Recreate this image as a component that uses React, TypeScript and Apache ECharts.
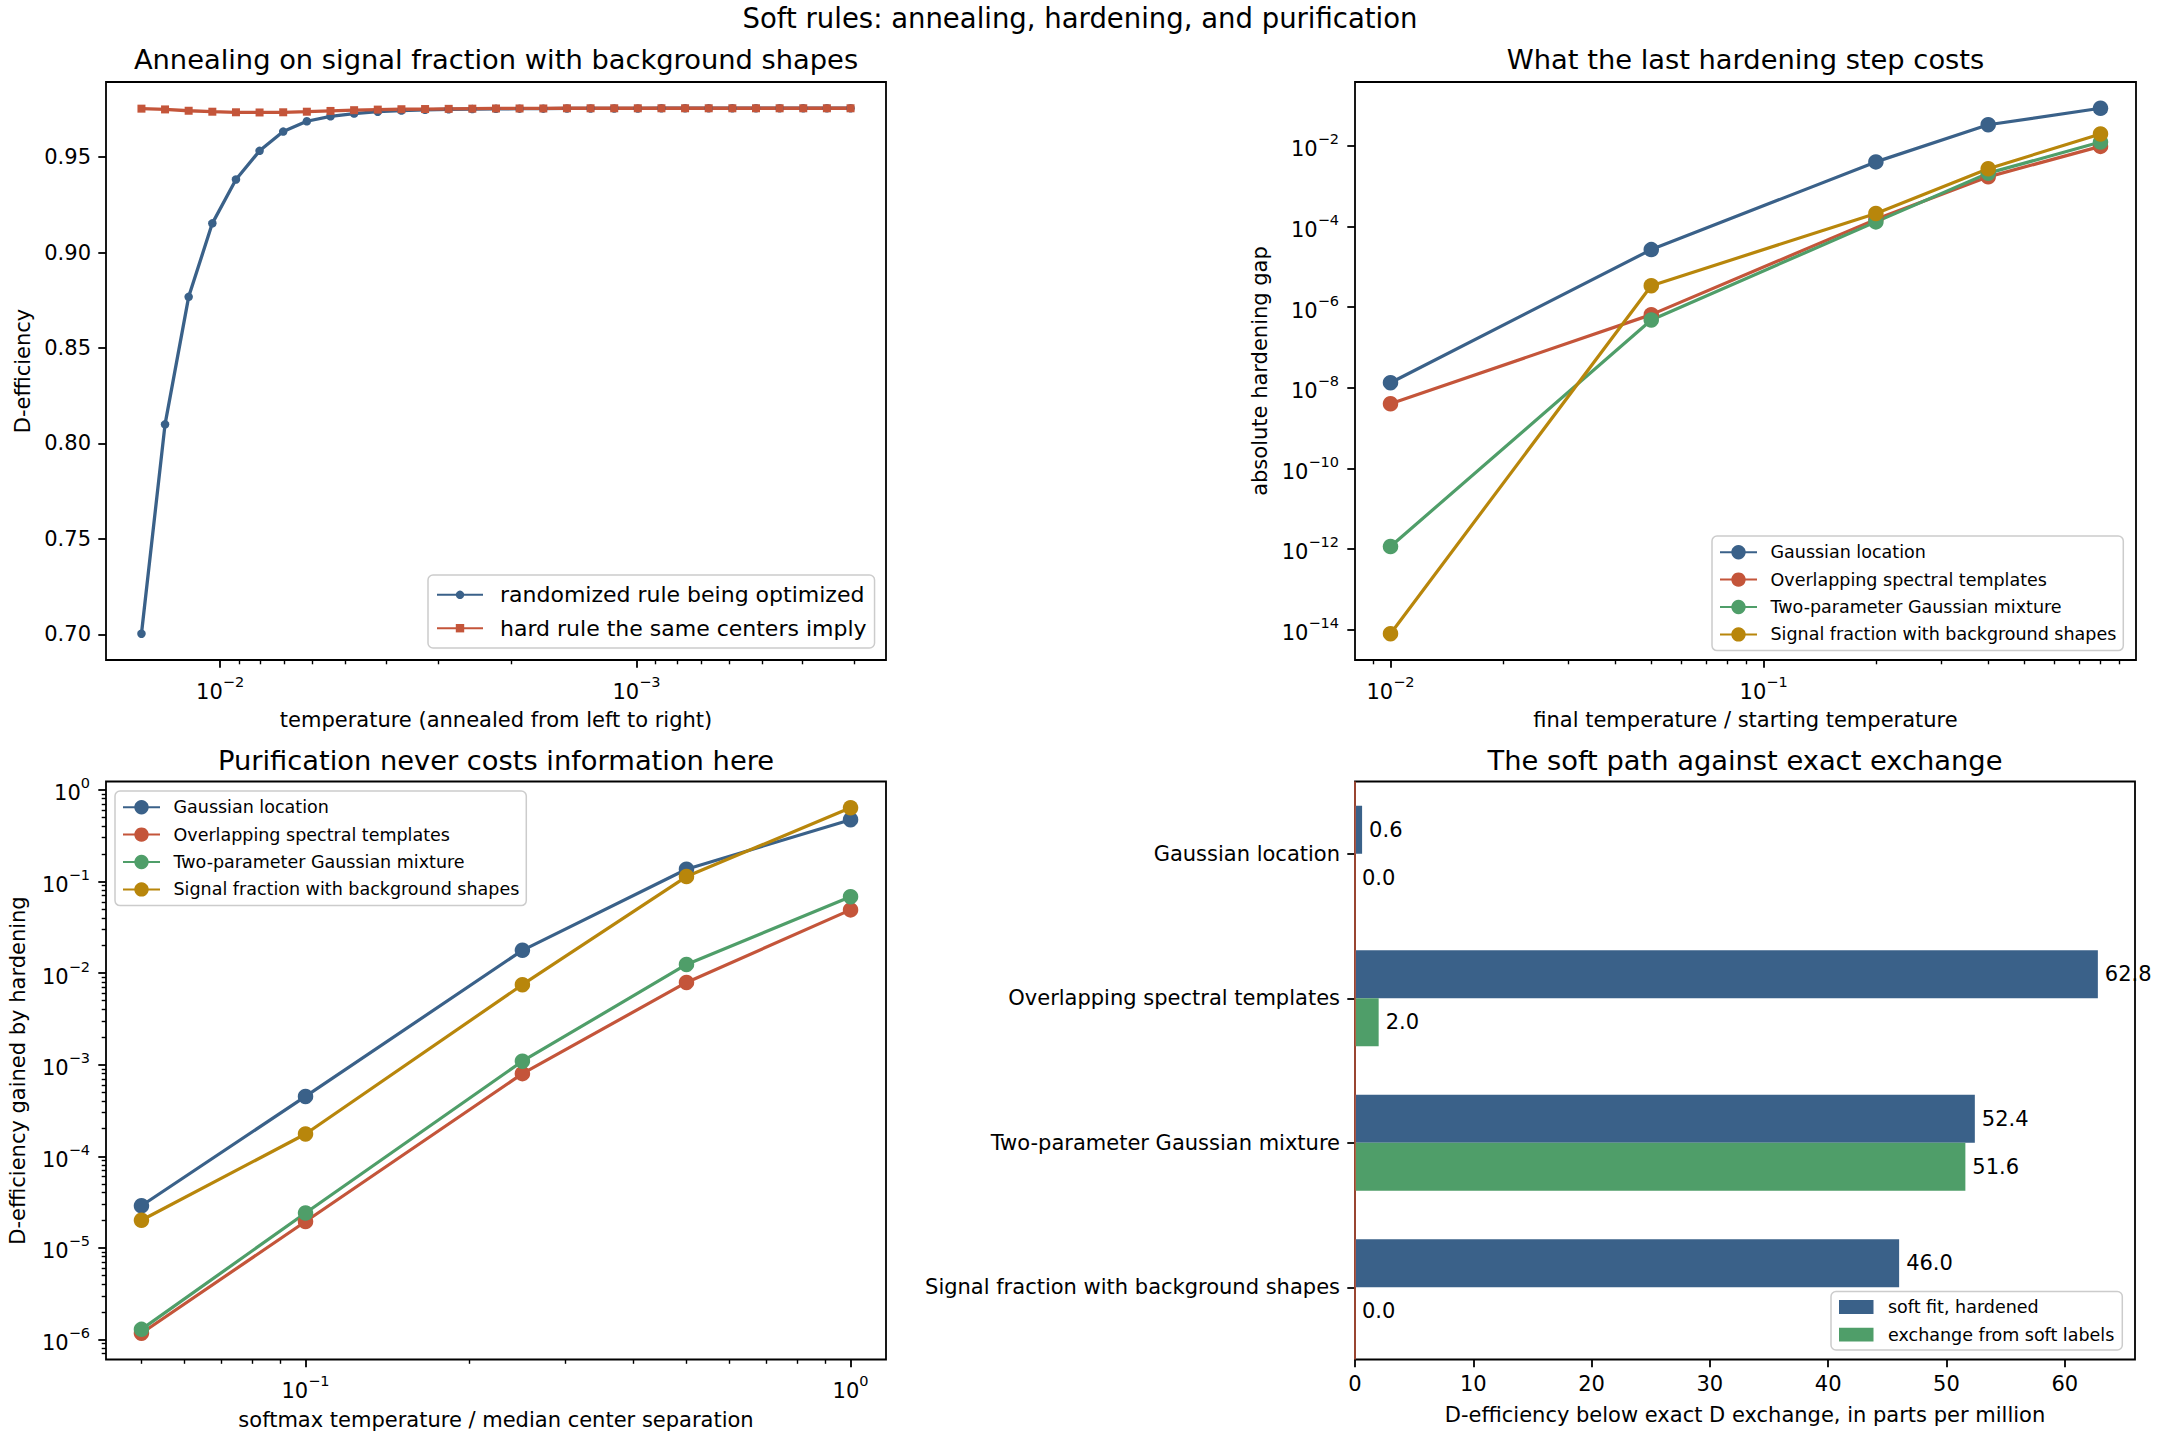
import React, { useEffect, useRef } from "react";
import * as echarts from "echarts";

const FONT = "DejaVu Sans";
const BLUE = "#3a6189";
const RED = "#c4553a";
const GREEN = "#4f9e69";
const GOLD = "#b8860b";

const SUPTITLE = "Soft rules: annealing, hardening, and purification";
const PANEL_TITLES = [
  "Annealing on signal fraction with background shapes",
  "What the last hardening step costs",
  "Purification never costs information here",
  "The soft path against exact exchange",
];

// Panel 1: annealing
const annealTemps = [
  0.01545, 0.01356, 0.0119, 0.01044, 0.009161, 0.00804, 0.007055, 0.00619, 0.005431, 0.004766,
  0.004182, 0.003669, 0.003219, 0.002825, 0.002479, 0.002175, 0.001909, 0.001674, 0.001469, 0.001289,
  0.001131, 0.0009927, 0.0008711, 0.0007643, 0.0006707, 0.0005885, 0.0005164, 0.0004531, 0.0003976,
  0.0003489, 0.0003061,
];
const annealSoft = [
  0.7003, 0.81, 0.8768, 0.9153, 0.9383, 0.9533, 0.9634, 0.9688, 0.9714, 0.9728, 0.9738, 0.9744,
  0.9748, 0.9751, 0.9752, 0.9753, 0.9754, 0.9754, 0.9755, 0.9755, 0.9755, 0.9755, 0.9756, 0.9756,
  0.9756, 0.9756, 0.9756, 0.9756, 0.9756, 0.9756, 0.9756,
];
const annealHard = [
  0.9754, 0.975, 0.9743, 0.9738, 0.9735, 0.9734, 0.9735, 0.9738, 0.9742, 0.9746, 0.9749, 0.9751,
  0.9752, 0.9753, 0.9754, 0.9755, 0.9755, 0.9755, 0.9756, 0.9756, 0.9756, 0.9756, 0.9756, 0.9756,
  0.9756, 0.9756, 0.9756, 0.9756, 0.9756, 0.9756, 0.9756,
];
const annealNames = ["randomized rule being optimized", "hard rule the same centers imply"];

// Problems
const problems = [
  "Gaussian location",
  "Overlapping spectral templates",
  "Two-parameter Gaussian mixture",
  "Signal fraction with background shapes",
];
const problemColors = [BLUE, RED, GREEN, GOLD];

// Panel 2: hardening gap
const hardenRatio = [0.01, 0.05, 0.2, 0.4, 0.8];
const gapGaussian = [1.33e-8, 2.67e-5, 4.0e-3, 3.34e-2, 8.55e-2];
const gapOverlap = [4.0e-9, 6.5e-7, 1.5e-4, 1.7e-3, 9.7e-3];
const gapTwoParam = [1.15e-12, 4.8e-7, 1.3e-4, 2.1e-3, 1.24e-2];
const gapSignal = [7.9e-15, 3.4e-6, 2.1e-4, 2.7e-3, 1.97e-2];

// Panel 3: purification
const softmaxTemp = [0.05, 0.1, 0.25, 0.5, 1.0];
const gainGaussian = [2.88e-5, 4.5e-4, 1.77e-2, 0.136, 0.472];
const gainOverlap = [1.17e-6, 1.94e-5, 7.98e-4, 7.9e-3, 4.89e-2];
const gainTwoParam = [1.29e-6, 2.4e-5, 1.09e-3, 1.24e-2, 6.82e-2];
const gainSignal = [2.0e-5, 1.75e-4, 7.46e-3, 0.113, 0.637];

// Panel 4: bars
const barNames = ["soft fit, hardened", "exchange from soft labels"];
const softFitHardened = [0.6, 62.8, 52.4, 46.0];
const exchangeSoftLabels = [0.0, 2.0, 51.6, 0.0];
const barTicks = [0, 10, 20, 30, 40, 50, 60];
const linearTicks = [0.7, 0.75, 0.8, 0.85, 0.9, 0.95];

const lg = (v: number) => Math.log10(v);
const pad = (vals: number[]): [number, number] => {
  const lo = Math.min(...vals);
  const hi = Math.max(...vals);
  const s = hi - lo;
  return [lo - 0.05 * s, hi + 0.05 * s];
};
const majors = (r: [number, number], step = 1) => {
  const out: number[] = [];
  for (let k = Math.ceil(r[0] / step) * step; k <= r[1] + 1e-9; k += step) out.push(k);
  return out;
};
const minors = (r: [number, number]) => {
  const out: number[] = [];
  for (let k = Math.floor(r[0]) - 1; k <= Math.ceil(r[1]); k++) {
    for (let m = 2; m <= 9; m++) {
      const v = k + Math.log10(m);
      if (v >= r[0] && v <= r[1]) out.push(v);
    }
  }
  return out;
};

const powLabel = (v: number) => {
  const e = Math.round(v);
  if (Math.abs(v - e) > 1e-6) return "";
  const s = e < 0 ? "\u2212" + Math.abs(e) : String(e);
  return `{b|10}{s|${s}}`;
};
const RICH = {
  b: { fontSize: 21, lineHeight: 28, verticalAlign: "bottom", fontFamily: FONT, color: "#000" },
  s: { fontSize: 14.5, lineHeight: 18, verticalAlign: "top", fontFamily: FONT, color: "#000" },
};

const TICK = { color: "#000", width: 1.8 };
const nameStyle = { fontSize: 21, fontFamily: FONT, color: "#000" };
const NOLINE = { show: false, onZero: false };

function logAxes(
  gridIndex: number,
  range: [number, number],
  opts: { name?: string; nameGap?: number; inverse?: boolean; step?: number; minor?: boolean; margin?: number; isY?: boolean }
) {
  const main: any = {
    type: "value",
    gridIndex,
    min: range[0],
    max: range[1],
    inverse: !!opts.inverse,
    position: opts.isY ? "left" : "bottom",
    axisLine: NOLINE,
    splitLine: { show: false },
    axisTick: { show: true, length: 7.7, lineStyle: TICK, customValues: majors(range, opts.step || 1) },
    axisLabel: {
      show: true,
      customValues: majors(range, opts.step || 1),
      formatter: powLabel,
      rich: RICH,
      margin: opts.margin ?? 14,
      color: "#000",
      fontFamily: FONT,
    },
  };
  if (opts.name) {
    main.name = opts.name;
    main.nameLocation = "middle";
    main.nameGap = opts.nameGap;
    main.nameTextStyle = nameStyle;
  }
  const list = [main];
  if (opts.minor) {
    list.push({
      type: "value",
      gridIndex,
      min: range[0],
      max: range[1],
      inverse: !!opts.inverse,
      position: opts.isY ? "left" : "bottom",
      axisLine: NOLINE,
      splitLine: { show: false },
      axisTick: { show: true, length: 4.3, lineStyle: { color: "#000", width: 1.4 }, customValues: minors(range) },
      axisLabel: { show: false },
    });
  }
  return list;
}

const GRIDS = [
  { left: 106, top: 82, width: 780, height: 578 },
  { left: 1355, top: 82, width: 781, height: 578 },
  { left: 106, top: 781.5, width: 780, height: 578 },
  { left: 1355, top: 781.5, width: 780, height: 578 },
];

function legendBox(extra: any) {
  return {
    orient: "vertical",
    backgroundColor: "rgba(255,255,255,0.8)",
    borderColor: "#cccccc",
    borderWidth: 1.5,
    borderRadius: 5,
    selectedMode: false,
    ...extra,
  };
}

function buildOption() {
  const g0x = pad(annealTemps.map(lg));
  const g0y = pad([...annealSoft, ...annealHard]);
  const g1x = pad(hardenRatio.map(lg));
  const gaps = [gapGaussian, gapOverlap, gapTwoParam, gapSignal];
  const g1y = pad(gaps.flat().map(lg));
  const g2x = pad(softmaxTemp.map(lg));
  const gains = [gainGaussian, gainOverlap, gainTwoParam, gainSignal];
  const g2y = pad(gains.flat().map(lg));
  const barMax = Math.max(...softFitHardened, ...exchangeSoftLabels) * 1.05;

  const xAxes: any[] = [
    ...logAxes(0, g0x, { name: "temperature (annealed from left to right)", nameGap: 49, inverse: true, minor: true }),
    ...logAxes(1, g1x, { name: "final temperature / starting temperature", nameGap: 49, minor: true }),
    ...logAxes(2, g2x, { name: "softmax temperature / median center separation", nameGap: 49.5, minor: true }),
    {
      type: "value",
      gridIndex: 3,
      min: 0,
      max: barMax,
      position: "bottom",
      axisLine: NOLINE,
      splitLine: { show: false },
      axisTick: { show: true, length: 7.7, lineStyle: TICK, customValues: barTicks },
      axisLabel: { customValues: barTicks, fontSize: 21, fontFamily: FONT, color: "#000", margin: 14 },
      name: "D-efficiency below exact D exchange, in parts per million",
      nameLocation: "middle",
      nameGap: 45,
      nameTextStyle: nameStyle,
    },
  ];
  // indices: 0,1 grid0; 2,3 grid1; 4,5 grid2; 6 grid3
  const yAxes: any[] = [
    {
      type: "value",
      gridIndex: 0,
      min: g0y[0],
      max: g0y[1],
      position: "left",
      axisLine: NOLINE,
      splitLine: { show: false },
      axisTick: { show: true, length: 7.7, lineStyle: TICK, customValues: linearTicks },
      axisLabel: {
        customValues: linearTicks,
        formatter: (v: number) => v.toFixed(2),
        fontSize: 21,
        fontFamily: FONT,
        color: "#000",
        margin: 15,
      },
      name: "D-efficiency",
      nameLocation: "middle",
      nameGap: 73,
      nameTextStyle: nameStyle,
    },
    ...logAxes(1, g1y, { name: "absolute hardening gap", nameGap: 85, step: 2, isY: true, margin: 16 }),
    ...logAxes(2, g2y, { name: "D-efficiency gained by hardening", nameGap: 78, minor: true, isY: true, margin: 16 }),
    {
      type: "category",
      gridIndex: 3,
      data: problems,
      inverse: true,
      position: "left",
      axisLine: NOLINE,
      splitLine: { show: false },
      axisTick: { show: true, alignWithLabel: true, length: 7.7, lineStyle: TICK },
      axisLabel: { fontSize: 21, fontFamily: FONT, color: "#000", margin: 15 },
    },
  ];
  // y indices: 0 grid0; 1 grid1; 2,3 grid2; 4 grid3

  const series: any[] = [
    {
      type: "line",
      name: annealNames[0],
      xAxisIndex: 0,
      yAxisIndex: 0,
      data: annealTemps.map((t, i) => [lg(t), annealSoft[i]]),
      symbol: "circle",
      symbolSize: 8.5,
      color: BLUE,
      lineStyle: { width: 3.3, color: BLUE },
      itemStyle: { color: BLUE },
    },
    {
      type: "line",
      name: annealNames[1],
      xAxisIndex: 0,
      yAxisIndex: 0,
      data: annealTemps.map((t, i) => [lg(t), annealHard[i]]),
      symbol: "rect",
      symbolSize: 8,
      color: RED,
      lineStyle: { width: 3.3, color: RED },
      itemStyle: { color: RED },
    },
  ];
  gaps.forEach((arr, k) => {
    series.push({
      type: "line",
      name: problems[k],
      xAxisIndex: 2,
      yAxisIndex: 1,
      data: hardenRatio.map((x, i) => [lg(x), lg(arr[i])]),
      symbol: "circle",
      symbolSize: 15.5,
      color: problemColors[k],
      lineStyle: { width: 3.2, color: problemColors[k] },
      itemStyle: { color: problemColors[k] },
    });
  });
  gains.forEach((arr, k) => {
    series.push({
      type: "line",
      name: problems[k],
      xAxisIndex: 4,
      yAxisIndex: 2,
      data: softmaxTemp.map((x, i) => [lg(x), lg(arr[i])]),
      symbol: "circle",
      symbolSize: 15.5,
      color: problemColors[k],
      lineStyle: { width: 3.2, color: problemColors[k] },
      itemStyle: { color: problemColors[k] },
    });
  });
  const barLabel = {
    show: true,
    position: "right",
    distance: 7,
    formatter: (p: any) => Number(p.value).toFixed(1),
    fontSize: 21,
    fontFamily: FONT,
    color: "#000",
  };
  series.push({
    type: "bar",
    name: barNames[0],
    xAxisIndex: 6,
    yAxisIndex: 4,
    data: softFitHardened,
    barWidth: 48,
    barGap: "0%",
    color: BLUE,
    itemStyle: { color: BLUE },
    label: barLabel,
    markLine: {
      silent: true,
      symbol: "none",
      label: { show: false },
      lineStyle: { color: RED, width: 1.5, type: "solid" },
      data: [{ xAxis: 0 }],
    },
  });
  series.push({
    type: "bar",
    name: barNames[1],
    xAxisIndex: 6,
    yAxisIndex: 4,
    data: exchangeSoftLabels,
    barWidth: 48,
    barGap: "0%",
    color: GREEN,
    itemStyle: { color: GREEN },
    label: barLabel,
  });

  const smallText = { fontSize: 17.5, fontFamily: FONT, color: "#000", lineHeight: 18, padding: [0, 0, 0, 8.5] };
  const legends = [
    legendBox({
      left: 428,
      top: 575,
      data: annealNames,
      itemWidth: 46,
      itemHeight: 10.5,
      itemGap: 11.4,
      padding: [8.8, 8, 8.8, 8],
      textStyle: { fontSize: 22, fontFamily: FONT, color: "#000", lineHeight: 22, padding: [0, 0, 0, 12] },
    }),
    legendBox({
      left: 1712,
      top: 536,
      data: problems,
      itemWidth: 37,
      itemHeight: 18,
      itemGap: 9.4,
      padding: [7.2, 7, 7.2, 7],
      textStyle: smallText,
    }),
    legendBox({
      left: 115,
      top: 791,
      data: problems,
      itemWidth: 37,
      itemHeight: 18,
      itemGap: 9.4,
      padding: [7.2, 7, 7.2, 7],
      textStyle: smallText,
    }),
    legendBox({
      left: 1831,
      top: 1291.6,
      data: barNames.map((n) => ({ name: n, icon: "rect" })),
      itemWidth: 34.5,
      itemHeight: 13.8,
      itemGap: 9.6,
      padding: [6.4, 8, 6.4, 8],
      textStyle: { ...smallText, padding: [0, 0, 0, 9.5] },
    }),
  ];

  const txt = (text: string, x: number, y: number, size: number) => ({
    type: "text",
    x,
    y,
    silent: true,
    style: {
      text,
      fontSize: size,
      fontFamily: FONT,
      fill: "#000",
      align: "center",
      verticalAlign: "middle",
      textAlign: "center",
      textVerticalAlign: "middle",
    },
  });
  const centers = GRIDS.map((g) => g.left + g.width / 2);
  const graphic = [
    txt(SUPTITLE, 1080, 18, 27.5),
    txt(PANEL_TITLES[0], centers[0], 59.5, 27.3),
    txt(PANEL_TITLES[1], centers[1], 59.5, 27.3),
    txt(PANEL_TITLES[2], centers[2], 760, 27.3),
    txt(PANEL_TITLES[3], centers[3], 760, 27.3),
  ];

  return {
    animation: false,
    backgroundColor: "#ffffff",
    textStyle: { fontFamily: FONT },
    grid: GRIDS.map((g) => ({
      ...g,
      show: true,
      borderColor: "#000",
      borderWidth: 1.8,
      backgroundColor: "transparent",
      containLabel: false,
    })),
    xAxis: xAxes,
    yAxis: yAxes,
    legend: legends,
    series,
    graphic,
  };
}

export default function App() {
  const ref = useRef<HTMLDivElement>(null);
  useEffect(() => {
    document.body.style.margin = "0";
    if (!ref.current) return;
    const chart = echarts.init(ref.current, null, { renderer: "svg" });
    chart.setOption(buildOption() as any);
    return () => chart.dispose();
  }, []);
  return <div ref={ref} style={{ width: 2160, height: 1440, background: "#fff" }} />;
}
